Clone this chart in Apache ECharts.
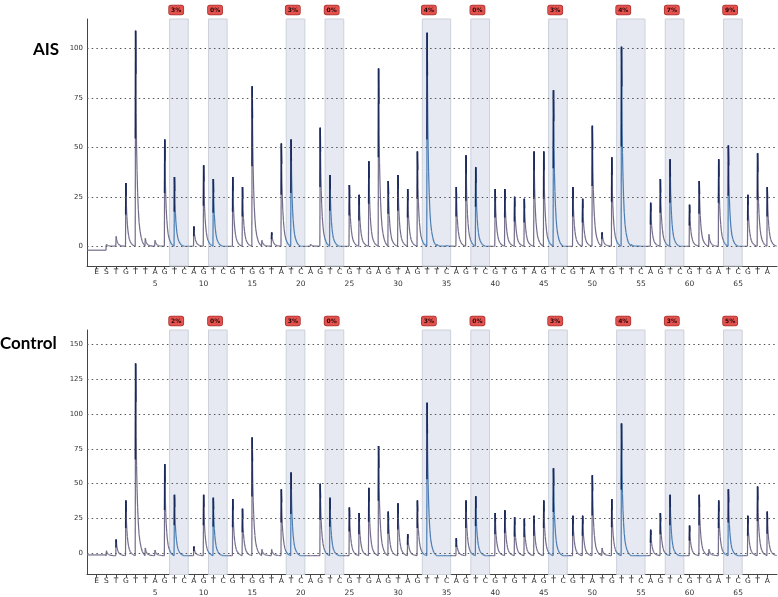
<!DOCTYPE html>
<html><head><meta charset="utf-8">
<script src="https://cdn.jsdelivr.net/npm/echarts@6/dist/echarts.min.js"></script>
<style>html,body{margin:0;padding:0;background:#fff}#c{width:778px;height:597px}</style>
</head><body><div id="c"></div>
<script>
// Dispensation order: E, S, then dispensations 1..68
const dispensation = ['E','S',
  'T','G','T','T','A', 'G','T','C','A','G', 'T','C','G','T','G', 'G','T','A','T','C',
  'A','G','T','C','G', 'T','G','A','G','T', 'A','G','T','T','C', 'A','G','T','C','G',
  'T','G','T','A','G', 'T','C','G','T','A', 'T','G','T','T','C', 'A','G','T','C','G',
  'T','G','A','T','C', 'G','T','A'];
// CpG sites (dispensation numbers covered by each shaded box)
const cpgSites = [[7,8],[11,12],[19,20],[23,24],[33,35],[38,39],[46,47],[53,55],[58,59],[64,65]];
const aisPercent = [3,0,3,0,4,0,3,4,7,9];
const controlPercent = [2,0,3,0,3,0,3,4,3,5];
// Peak heights, dispensation S (0) then 1..68
const aisPeaks = [1,
  5,32,109,4,3, 54,35,0,10,41, 34,0,35,30,81, 3,7,52,54,0,
  1,60,36,0,31, 26,43,90,33,36, 29,48,108,1,0.5, 30,46,40,0,29,
  29,25,24,48,48, 79,0,30,24,61, 7,45,101,1,0, 22,34,44,0,21,
  33,6,44,51,0, 26,47,30];
const controlPeaks = [2,
  10,38,136,4,2.5, 64,42,0,5,42, 40,0,39,32,83, 3,3,46,58,0,
  0,50,40,0,33, 29,47,77,30,36, 14,38,108,0,0, 11,38,41,0,29,
  31,26,25,27,38, 61,0,27,27,56, 4,39,93,0,0, 17,29,42,0,20,
  42,3,38,46,0, 27,48,30];
const aisYTicks = [0,25,50,75,100];
const controlYTicks = [0,25,50,75,100,125,150];

// peak shape template (style): [x offset, fraction of height]
const shape = [[-0.04,0],[0,1],[0.03,0.8],[0.06,0.62],[0.1,0.47],[0.15,0.35],[0.21,0.25],[0.28,0.17],[0.36,0.11],[0.46,0.07],[0.58,0.04],[0.7,0.02],[0.85,0.008],[0.96,0]];
const GRAY = '#736c8a', BLUE = '#4a7db4', NAVY = '#1b2a5c';
const xPositions = dispensation.map((d,i)=>i-1);

function inBox(x){
  return cpgSites.some(s => x >= s[0]-0.5 && x <= s[1]+0.42);
}
function makeRender(base, lead){
  return function(params, api){
    const pos = api.value(0), val = api.value(1);
    const apex = val === 0 ? base : val;
    const children = [];
    const line = (a,b,color,w) => {
      const p1 = api.coord(a), p2 = api.coord(b);
      children.push({type:'line', shape:{x1:p1[0],y1:p1[1],x2:p2[0],y2:p2[1]}, style:{stroke:color, lineWidth:w}});
    };
    if (pos === 0){
      line([-2, lead],[pos+shape[0][0], lead], GRAY, 1.2);
      line([pos+shape[0][0], lead],[pos+shape[0][0], base], GRAY, 1.2);
    }
    const pts = shape.map(([dx,f]) => [pos+dx, base + f*(apex-base)]);
    for (let i=0;i<pts.length-1;i++){
      const mid = (pts[i][0]+pts[i+1][0])/2;
      line(pts[i], pts[i+1], inBox(mid) ? BLUE : GRAY, 1.2);
    }
    if (apex - base > 6){
      const h = apex - base;
      line([pos-0.04*0.5, base + h*0.5], [pos, apex], NAVY, 1.5);
      line([pos, apex], [pos+0.03, base + h*0.8], NAVY, 1.4);
    }
    return {type:'group', children};
  };
}

const chart = echarts.init(document.getElementById('c'), null, {renderer:'canvas'});
const FONT = 'DejaVu Sans';

function xAxisFor(gi){
  return {
    type:'value', gridIndex:gi, min:-2, max:69,
    axisLine:{onZero:false, lineStyle:{color:'#444', width:1}},
    axisTick:{customValues:xPositions, length:3, lineStyle:{color:'#444'}},
    axisLabel:{customValues:xPositions, margin:2, color:'#333',
      formatter:v => {
        const k = Math.round(v);
        const letter = dispensation[k+1] || '';
        const num = (k>0 && k%5===0) ? String(k) : ' ';
        return '{l|'+letter+'}\n{n|'+num+'}';
      },
      rich:{ l:{fontSize:7.5, fontFamily:FONT, lineHeight:9, color:'#2a2a2a'},
             n:{fontSize:7.5, fontFamily:FONT, lineHeight:15, color:'#333'} }
    },
    splitLine:{show:false}
  };
}
function yAxisFor(gi, min, max, ticks){
  return {
    type:'value', gridIndex:gi, min:min, max:max,
    axisLine:{show:true, onZero:false, lineStyle:{color:'#444', width:1}},
    axisTick:{show:false},
    axisLabel:{customValues:ticks, fontSize:7, fontFamily:FONT, color:'#333', margin:4},
    splitLine:{show:false}
  };
}
function boxSeries(gi, percents){
  return {
    type:'line', xAxisIndex:gi, yAxisIndex:gi, data:[], z:1, silent:true,
    markArea:{silent:true,
      itemStyle:{color:'#e6e9f1', borderColor:'#ccd1db', borderWidth:1},
      label:{show:true, position:[0,-13], align:'left', verticalAlign:'top',
        fontSize:6, fontWeight:'bold', fontFamily:FONT, color:'#2a0808', lineHeight:8,
        backgroundColor:'#e3524f', borderColor:'#a83330', borderWidth:0.8, borderRadius:2, padding:[1,2,0,2]},
      data: cpgSites.map((s,i)=>[{xAxis:s[0]-0.5, name:percents[i]+'%'},{xAxis:s[1]+0.42}])
    }
  };
}
function gridLineSeries(gi, ticks){
  return {
    type:'line', xAxisIndex:gi, yAxisIndex:gi, data:[], z:2, silent:true,
    markLine:{silent:true, symbol:'none', label:{show:false},
      lineStyle:{type:[1.5,3.2], color:'#555', width:1},
      data: ticks.map(v=>({yAxis:v}))}
  };
}
function traceSeries(gi, peaks, base, lead){
  return {
    type:'custom', xAxisIndex:gi, yAxisIndex:gi, z:3, silent:true,
    renderItem: makeRender(base, lead),
    encode:{x:0, y:1},
    data: peaks.map((v,i)=>[i, v])
  };
}

chart.setOption({
  animation:false,
  title:[
    {text:'AIS', left:33, top:41, padding:0, textStyle:{fontFamily:'Lato', fontWeight:'bold', fontSize:17, color:'#000'}},
    {text:'Control', left:0, top:335, padding:0, textStyle:{fontFamily:'Lato', fontWeight:'bold', fontSize:17, color:'#000'}}
  ],
  grid:[
    {left:87, right:1, top:19, height:247},
    {left:87, right:1, top:330, height:246}
  ],
  xAxis:[xAxisFor(0), xAxisFor(1)],
  yAxis:[yAxisFor(0,-10,115,aisYTicks), yAxisFor(1,-15,160,controlYTicks)],
  series:[
    boxSeries(0, aisPercent), gridLineSeries(0, aisYTicks), traceSeries(0, aisPeaks, 0, -2),
    boxSeries(1, controlPercent), gridLineSeries(1, controlYTicks), traceSeries(1, controlPeaks, -1.5, -1)
  ]
});
</script></body></html>
